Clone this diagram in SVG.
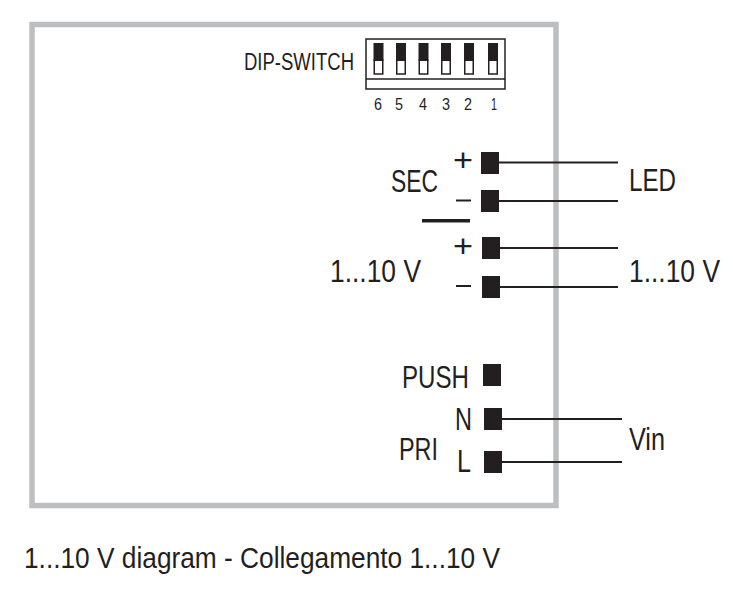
<svg xmlns="http://www.w3.org/2000/svg" width="733" height="591" viewBox="0 0 733 591">
<style>
text{font-family:"Liberation Sans",Arial,sans-serif;fill:#231f20}
.l{font-size:31px}
.c{font-size:30px}
.m{font-size:23px}
.n{font-size:16.500px}
.t{fill:#231f20}
.w{stroke:#231f20;stroke-width:2;fill:none}
.d{fill:#231f20}
.s{fill:#fff;stroke:#231f20;stroke-width:1.500}
</style>
<rect width="733" height="591" fill="#fff"/>
<g id="enclosure"><rect x="32" y="24.500" width="524" height="481" fill="none" stroke="#bcbec0" stroke-width="5.500"/></g>
<g id="dip-switch">
<rect x="366" y="39" width="139" height="50" fill="#fff" stroke="#231f20" stroke-width="1.500"/>
<line x1="366" y1="79" x2="505" y2="79" stroke="#231f20" stroke-width="1.500"/>
<g><rect class="s" x="374.250" y="60" width="8.500" height="14"/><rect class="d" x="373.500" y="43" width="10" height="18"/></g>
<g><rect class="s" x="396.750" y="60" width="8.500" height="14"/><rect class="d" x="396" y="43" width="10" height="18"/></g>
<g><rect class="s" x="419.250" y="60" width="8.500" height="14"/><rect class="d" x="418.500" y="43" width="10" height="18"/></g>
<g><rect class="s" x="441.750" y="60" width="8.500" height="14"/><rect class="d" x="441" y="43" width="10" height="18"/></g>
<g><rect class="s" x="464.750" y="60" width="8.500" height="14"/><rect class="d" x="464" y="43" width="10" height="18"/></g>
<g><rect class="s" x="488.750" y="60" width="8.500" height="14"/><rect class="d" x="488" y="43" width="10" height="18"/></g>
<text class="m" x="244" y="70" textLength="110" lengthAdjust="spacingAndGlyphs">DIP-SWITCH</text>
<text class="n" x="374" y="110" textLength="8" lengthAdjust="spacingAndGlyphs">6</text>
<text class="n" x="395" y="110" textLength="8" lengthAdjust="spacingAndGlyphs">5</text>
<text class="n" x="419" y="110" textLength="8" lengthAdjust="spacingAndGlyphs">4</text>
<text class="n" x="442" y="110" textLength="8" lengthAdjust="spacingAndGlyphs">3</text>
<text class="n" x="464" y="110" textLength="8" lengthAdjust="spacingAndGlyphs">2</text>
<text class="n" x="491" y="110" textLength="6" lengthAdjust="spacingAndGlyphs">1</text>
</g>
<g id="connectors" class="w">
<line x1="499" y1="162.500" x2="618" y2="162.500"/>
<line x1="499" y1="201" x2="618" y2="201"/>
<line x1="500" y1="248" x2="618" y2="248"/>
<line x1="500" y1="287" x2="618" y2="287"/>
<line x1="502" y1="419" x2="622" y2="419"/>
<line x1="502" y1="462" x2="622" y2="462"/>
</g>
<g id="sec-plus"><rect class="t" x="481" y="152" width="18" height="22"/><text class="l" x="453" y="171" textLength="20" lengthAdjust="spacingAndGlyphs">+</text></g>
<g id="sec-minus"><rect class="t" x="481" y="190" width="18" height="22"/><rect class="t" x="456" y="199.500" width="15" height="2"/></g>
<g id="dim-plus"><rect class="t" x="482" y="237" width="18" height="22"/><text class="l" x="453" y="257" textLength="20" lengthAdjust="spacingAndGlyphs">+</text></g>
<g id="dim-minus"><rect class="t" x="482" y="276" width="18" height="22"/><rect class="t" x="456" y="285" width="15" height="2"/></g>
<g id="push"><rect class="t" x="483" y="364" width="18" height="22"/><text class="l" x="402" y="388" textLength="67" lengthAdjust="spacingAndGlyphs">PUSH</text></g>
<g id="n"><rect class="t" x="484" y="408" width="18" height="22"/><text class="l" x="455" y="430" textLength="17" lengthAdjust="spacingAndGlyphs">N</text></g>
<g id="l"><rect class="t" x="484" y="451" width="18" height="22"/><text class="l" x="457" y="472" textLength="14" lengthAdjust="spacingAndGlyphs">L</text></g>
<g id="sec-label"><text class="l" x="391" y="192" textLength="47" lengthAdjust="spacingAndGlyphs">SEC</text><rect class="t" x="422" y="219" width="48" height="3.500"/></g>
<g id="dim-label"><text class="l" x="330" y="282" textLength="91" lengthAdjust="spacingAndGlyphs">1...10 V</text></g>
<g id="pri-label"><text class="l" x="399" y="460" textLength="39" lengthAdjust="spacingAndGlyphs">PRI</text></g>
<g id="led-label"><text class="l" x="629" y="191" textLength="47" lengthAdjust="spacingAndGlyphs">LED</text></g>
<g id="dim-out-label"><text class="l" x="629" y="282" textLength="91" lengthAdjust="spacingAndGlyphs">1...10 V</text></g>
<g id="vin-label"><text class="l" x="629" y="450" textLength="36" lengthAdjust="spacingAndGlyphs">Vin</text></g>
<text class="c" x="24" y="568" textLength="476" lengthAdjust="spacingAndGlyphs">1...10 V diagram - Collegamento 1...10 V</text>
</svg>
